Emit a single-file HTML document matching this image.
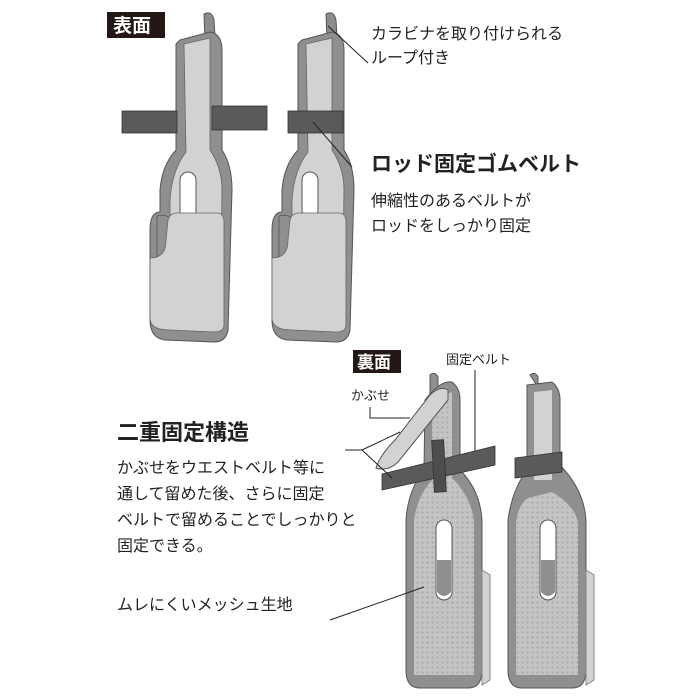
<!DOCTYPE html>
<html><head><meta charset="utf-8"><style>
body{margin:0;background:#fff;width:700px;height:700px;overflow:hidden}
svg{display:block}
text{font-family:"Liberation Sans","Noto Sans CJK JP",sans-serif;fill:#222}
</style></head><body>
<svg width="700" height="700" viewBox="0 0 700 700">
<defs>
<pattern id="mesh" width="5" height="5" patternUnits="userSpaceOnUse">
<rect width="5" height="5" fill="#c4c4c4"/><circle cx="2.5" cy="2.5" r="1.1" fill="#ababab"/>
</pattern>
<g id="front">
<path d="M204 14 q8 -4 10 6 l1 16 l-10 4z" fill="#8c8c8c" stroke="#555" stroke-width="1"/>
<path d="M180 40 L210 32 Q222 34 222 50 L222 150 Q232 165 232 190 L228 330 Q226 342 214 342 L165 340 Q150 338 150 320 L150 230 Q150 212 160 212 L160 190 Q162 165 176 150 L176 44z" fill="#8f8f8f" stroke="#555" stroke-width="1"/>
<path d="M184 44 L210 38 L210 150 Q222 168 222 190 L220 320 L170 320 L170 200 Q172 170 186 152z" fill="#d2d2d2" stroke="#666" stroke-width="0.8"/>
<rect x="180" y="172" width="16" height="46" rx="8" fill="#fff" stroke="#555"/>
<path d="M157 216 Q172 212 174 230 L174 258 L157 258z" fill="#8f8f8f" stroke="#555" stroke-width="0.8"/>
<path d="M168 220 Q170 212 180 213 L218 213 Q224 214 224 222 L224 325 Q224 332 214 332 L170 330 Q150 330 150 318 L150 258 Q166 258 166 240z" fill="#d2d2d2" stroke="#666" stroke-width="0.8"/>
</g>
</defs>
<use href="#front"/>
<rect x="122" y="111" width="55" height="22" fill="#5a5a5a" stroke="#333" stroke-width="0.8"/>
<rect x="212" y="106" width="55" height="24" fill="#5a5a5a" stroke="#333" stroke-width="0.8"/>
<use href="#front" transform="translate(122,0)"/>
<rect x="288" y="111" width="55" height="22" fill="#5a5a5a" stroke="#333" stroke-width="0.8"/>
<rect x="107" y="12" width="58" height="26" fill="#231815"/>
<text x="113" y="32" font-size="19" font-weight="bold" style="fill:#fff">表面</text>
<line x1="328" y1="26" x2="368" y2="63" stroke="#222"/>
<line x1="313" y1="122" x2="352" y2="167" stroke="#222"/>
<text x="371" y="39" font-size="16">カラビナを取り付けられる</text>
<text x="371" y="63" font-size="16">ループ付き</text>
<text x="371" y="171" font-size="21" font-weight="bold">ロッド固定ゴムベルト</text>
<text x="371" y="206" font-size="16">伸縮性のあるベルトが</text>
<text x="371" y="231" font-size="16">ロッドをしっかり固定</text>
<rect x="353" y="350" width="48" height="23" fill="#231815"/>
<text x="357" y="368" font-size="17" font-weight="bold" style="fill:#fff">裏面</text>
<text x="446" y="364" font-size="13">固定ベルト</text>
<text x="351" y="400" font-size="13">かぶせ</text>
<polyline points="370,407 370,418 410,418" fill="none" stroke="#222"/>
<line x1="475" y1="370" x2="475" y2="453" stroke="#222"/>
<path d="M430 375 q5 -4 8 2 l0 18 l-8 0z" fill="#8f8f8f" stroke="#555"/>
<path d="M425 400 Q440 380 452 382 Q460 388 460 400 L460 470 Q480 490 482 520 L482 670 Q482 688 468 688 L420 688 Q406 688 406 670 L406 520 Q408 490 424 470z" fill="#8f8f8f" stroke="#555"/>
<path d="M432 400 L452 392 L452 478 Q472 498 474 522 L474 675 L414 675 L414 522 Q416 498 432 480z" fill="url(#mesh)"/>
<rect x="436" y="520" width="16" height="80" rx="8" fill="#fff" stroke="#555"/>
<path d="M437 560 L451 560 L451 592 Q444 600 437 592z" fill="#8f8f8f"/>
<path d="M482 570 L490 575 L490 680 L482 685z" fill="#d2d2d2" stroke="#888"/>
<path d="M376 468 Q380 455 395 440 L430 395 Q440 385 448 390 L448 400 L398 462 Q388 472 376 468z" fill="#d2d2d2" stroke="#555"/>
<polygon points="382,474 495,446 495,465 382,490" fill="#5a5a5a" stroke="#333" stroke-width="0.8"/>
<rect x="433" y="440" width="12" height="52" fill="#4d4d4d" stroke="#333" stroke-width="0.8" transform="rotate(-3 439 466)"/>
<path d="M530 375 q5 -4 8 2 l0 10z" fill="#8f8f8f" stroke="#555"/>
<path d="M527 385 L552 382 Q560 388 560 400 L560 465 Q584 490 586 520 L586 670 Q586 688 572 688 L522 688 Q508 688 508 670 L508 520 Q512 490 527 470z" fill="#8f8f8f" stroke="#555"/>
<path d="M534 392 L552 390 L552 480 L534 480z" fill="#d2d2d2"/>
<path d="M528 498 L552 492 Q574 505 578 522 L578 675 L516 675 L516 522 Q518 505 528 498z" fill="url(#mesh)"/>
<rect x="540" y="520" width="16" height="80" rx="8" fill="#fff" stroke="#555"/>
<path d="M541 560 L555 560 L555 592 Q548 600 541 592z" fill="#8f8f8f"/>
<path d="M586 570 L594 575 L594 680 L586 685z" fill="#d2d2d2" stroke="#888"/>
<polygon points="515,458 562,452 562,472 515,478" fill="#5a5a5a" stroke="#333" stroke-width="0.8"/>
<text x="117" y="440" font-size="22" font-weight="bold">二重固定構造</text>
<polyline points="345,450 362,450 392,478" fill="none" stroke="#222"/>
<line x1="362" y1="450" x2="400" y2="432" stroke="#222"/>
<text x="117" y="473" font-size="16">かぶせをウエストベルト等に</text>
<text x="117" y="499" font-size="16">通して留めた後、さらに固定</text>
<text x="117" y="525" font-size="16">ベルトで留めることでしっかりと</text>
<text x="117" y="551" font-size="16">固定できる。</text>
<text x="117" y="610" font-size="16">ムレにくいメッシュ生地</text>
<line x1="330" y1="620" x2="424" y2="587" stroke="#222"/>
</svg>
</body></html>
